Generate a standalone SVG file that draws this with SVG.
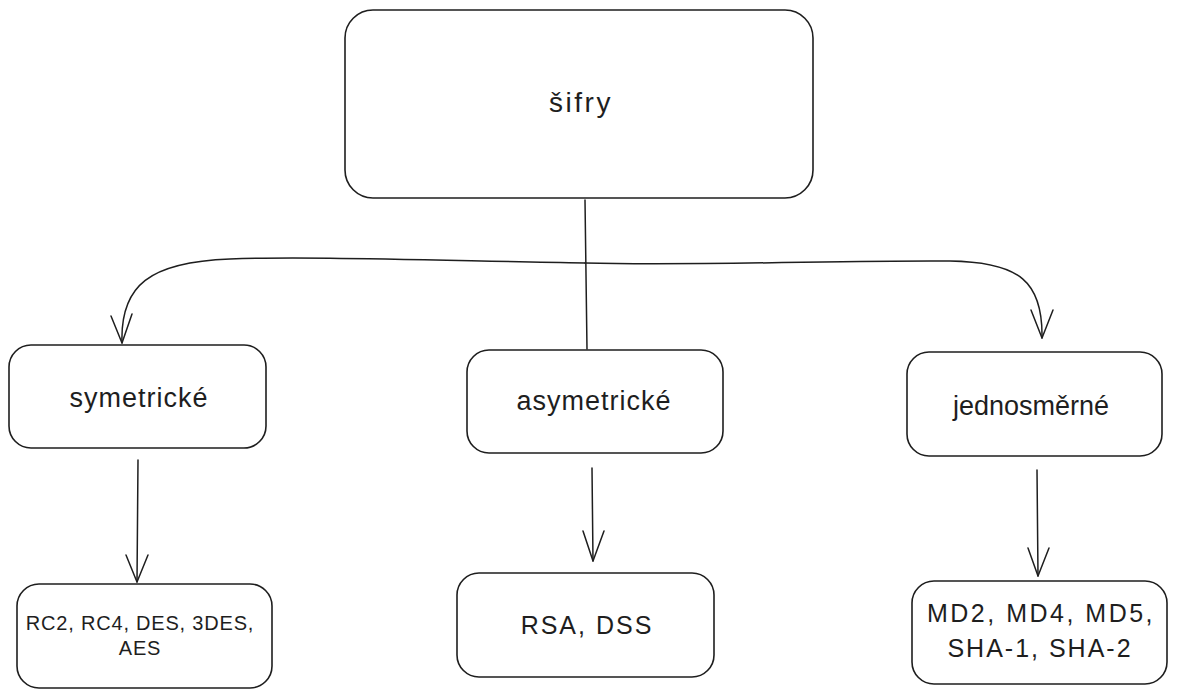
<svg xmlns="http://www.w3.org/2000/svg" width="1177" height="697" viewBox="0 0 1177 697">
<style>
.box{fill:#ffffff;stroke:#1e1e1e;stroke-width:1.6}
.lbl{font-family:"Liberation Sans","DejaVu Sans",sans-serif;fill:#1e1e1e;text-anchor:middle}
.edge{fill:none;stroke:#1e1e1e;stroke-width:1.5;stroke-linecap:round;stroke-linejoin:round}
</style>
<rect width="1177" height="697" fill="#ffffff"/>
<g id="connectors">
  <path class="edge" d="M585,200 L587,349"/>
  <path class="edge" d="M585,263 C420,260 300,256 230,259 C150,262 120,285 122,343"/>
  <path class="edge" d="M111,316 L122,343 L132,314"/>
  <path class="edge" d="M585,263 C700,266 850,260 950,261 C1020,262 1043,282 1042,338"/>
  <path class="edge" d="M1031,310 L1042,338 L1053,310"/>
  <path class="edge" d="M138,460 L137,582"/>
  <path class="edge" d="M126,555 L137,582 L148,555"/>
  <path class="edge" d="M592,468 L593,561"/>
  <path class="edge" d="M583,531 L593,561 L604,531"/>
  <path class="edge" d="M1037,470 L1038,576"/>
  <path class="edge" d="M1028,548 L1038,576 L1049,548"/>
</g>
<g id="node-sifry">
  <rect class="box" x="345" y="10" width="468" height="188" rx="28"/>
  <text class="lbl" x="581" y="112" font-size="28" letter-spacing="2.5">šifry</text>
</g>
<g id="node-symetricke">
  <rect class="box" x="9" y="345" width="257" height="103" rx="22"/>
  <text class="lbl" x="139" y="407" font-size="27" letter-spacing="1">symetrické</text>
</g>
<g id="node-asymetricke">
  <rect class="box" x="467" y="350" width="256" height="103" rx="22"/>
  <text class="lbl" x="594" y="410" font-size="27" letter-spacing="1">asymetrické</text>
</g>
<g id="node-jednosmerne">
  <rect class="box" x="907" y="352" width="255" height="104" rx="22"/>
  <text class="lbl" x="1031" y="415" font-size="27">jednosměrné</text>
</g>
<g id="node-sym-list">
  <rect class="box" x="17" y="584" width="255" height="104" rx="22"/>
  <text class="lbl" x="140" y="630" font-size="20" letter-spacing="0.8">RC2, RC4, DES, 3DES,</text>
  <text class="lbl" x="140" y="655" font-size="20" letter-spacing="0.8">AES</text>
</g>
<g id="node-asym-list">
  <rect class="box" x="457" y="573" width="257" height="104" rx="22"/>
  <text class="lbl" x="587" y="634" font-size="25" letter-spacing="2">RSA, DSS</text>
</g>
<g id="node-hash-list">
  <rect class="box" x="912" y="581" width="255" height="103" rx="22"/>
  <text class="lbl" x="1041" y="622" font-size="25" letter-spacing="2.5">MD2, MD4, MD5,</text>
  <text class="lbl" x="1040" y="657" font-size="25" letter-spacing="2">SHA-1, SHA-2</text>
</g>
</svg>
